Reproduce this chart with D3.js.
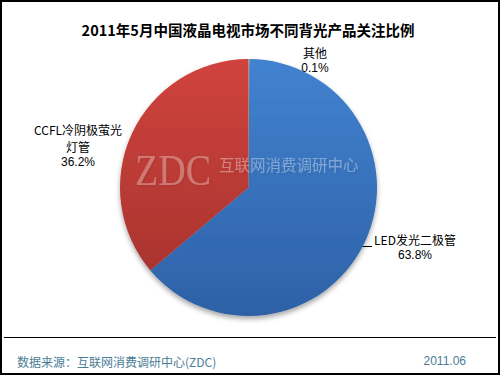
<!DOCTYPE html>
<html>
<head>
<meta charset="utf-8">
<script src="https://d3js.org/d3.v7.min.js"></script>
<style>
  html, body { margin: 0; padding: 0; background: #fff; }
  svg { display: block; }
</style>
</head>
<body>
<svg id="chart" width="500" height="375"></svg>
<script>
const title = "2011年5月中国液晶电视市场不同背光产品关注比例";
const categories = ["其他", "LED发光二极管", "CCFL冷阴极萤光灯管"];
const values = [0.1, 63.8, 36.2];
const labelLines = [["其他"], ["LED发光二极管"], ["CCFL冷阴极萤光", "灯管"]];
const source = "数据来源：互联网消费调研中心(ZDC)";
const dateText = "2011.06";

const width = 500, height = 375;
const cx = 248.5, cy = 187.5, r = 128.5;
const font = "'Noto Sans CJK SC', 'Liberation Sans', Arial, sans-serif";
const latin = "'Liberation Sans', Arial, sans-serif";

const svg = d3.select("#chart");
const defs = svg.append("defs");

// slice gradients (top light, bottom dark)
const colors = [
  { top: "#b5cd6a", bottom: "#8fae4c" },
  { top: "#4282d0", bottom: "#2d61a6" },
  { top: "#d0433d", bottom: "#a2312d" }
];
colors.forEach((c, i) => {
  const lg = defs.append("linearGradient")
    .attr("id", "g" + i)
    .attr("gradientUnits", "userSpaceOnUse")
    .attr("x1", 0).attr("y1", -r).attr("x2", 0).attr("y2", r);
  lg.append("stop").attr("offset", "0%").attr("stop-color", c.top);
  lg.append("stop").attr("offset", "100%").attr("stop-color", c.bottom);
});

const shadow = defs.append("filter").attr("id", "shadow")
  .attr("x", "-20%").attr("y", "-20%").attr("width", "140%").attr("height", "140%");
shadow.append("feDropShadow")
  .attr("dx", 0).attr("dy", 3).attr("stdDeviation", 2.5)
  .attr("flood-color", "#000").attr("flood-opacity", 0.35);

const wmShadow = defs.append("filter").attr("id", "wmshadow");
wmShadow.append("feDropShadow")
  .attr("dx", 1.5).attr("dy", 1.5).attr("stdDeviation", 1)
  .attr("flood-color", "#000").attr("flood-opacity", 0.25);

// frame
svg.append("rect")
  .attr("x", 1).attr("y", 1).attr("width", width - 2).attr("height", height - 2)
  .attr("fill", "#fff").attr("stroke", "#000").attr("stroke-width", 2);

// title
svg.append("text")
  .attr("x", 248).attr("y", 29)
  .attr("text-anchor", "middle").attr("dominant-baseline", "central")
  .attr("font-family", font).attr("font-size", 14.5).attr("font-weight", "bold")
  .attr("fill", "#000")
  .text(title);

// pie
const pie = d3.pie().sort(null).value(d => d);
const arc = d3.arc().innerRadius(0).outerRadius(r);
const arcs = pie(values);

svg.append("g")
  .attr("transform", `translate(${cx},${cy})`)
  .attr("filter", "url(#shadow)")
  .selectAll("path")
  .data(arcs)
  .join("path")
  .attr("d", arc)
  .attr("fill", (d, i) => `url(#g${i})`);

// watermark
svg.append("text")
  .attr("x", 135).attr("y", 185)
  .attr("font-family", "'Liberation Serif', 'DejaVu Serif', serif")
  .attr("font-size", 44)
  .attr("textLength", 76).attr("lengthAdjust", "spacingAndGlyphs")
  .attr("fill", "#fff").attr("fill-opacity", 0.3)
  .attr("filter", "url(#wmshadow)")
  .text("ZDC");
svg.append("text")
  .attr("x", 219).attr("y", 164)
  .attr("dominant-baseline", "central")
  .attr("font-family", font).attr("font-size", 15.5)
  .attr("fill", "#fff").attr("fill-opacity", 0.35)
  .attr("filter", "url(#wmshadow)")
  .text("互联网消费调研中心");

// labels: category name (may wrap) + percentage
const labelPos = [
  { x: 315, y: 52 },
  { x: 415, y: 239.5 },
  { x: 78, y: 129 }
];
const wrapH = 17;
arcs.forEach((a, i) => {
  const p = labelPos[i];
  const lines = labelLines[i];
  lines.forEach((ln, j) => {
    svg.append("text")
      .attr("x", p.x).attr("y", p.y + j * wrapH)
      .attr("text-anchor", "middle").attr("dominant-baseline", "central")
      .attr("font-family", font).attr("font-size", 12)
      .attr("fill", "#000")
      .text(ln);
  });
  svg.append("text")
    .attr("x", p.x).attr("y", p.y + (lines.length - 1) * wrapH + 15.5)
    .attr("text-anchor", "middle").attr("dominant-baseline", "central")
    .attr("font-family", latin).attr("font-size", 12)
    .attr("fill", "#000")
    .text(d3.format(".1f")(values[i]) + "%");
});

// leader line for the LED label
const ly = 246.5;
svg.append("line")
  .attr("x1", cx + Math.sqrt(r * r - (ly - cy) * (ly - cy))).attr("y1", ly)
  .attr("x2", 372).attr("y2", ly)
  .attr("stroke", "#000").attr("stroke-width", 1);

// footer
svg.append("line")
  .attr("x1", 4).attr("x2", 496).attr("y1", 337.5).attr("y2", 337.5)
  .attr("stroke", "#000").attr("stroke-width", 1);
svg.append("text")
  .attr("x", 17).attr("y", 361)
  .attr("dominant-baseline", "central")
  .attr("font-family", font).attr("font-size", 12)
  .attr("fill", "#4b7c98")
  .text(source);
svg.append("text")
  .attr("x", 466).attr("y", 361)
  .attr("text-anchor", "end").attr("dominant-baseline", "central")
  .attr("font-family", latin).attr("font-size", 12)
  .attr("fill", "#4b7c98")
  .text(dateText);
</script>
</body>
</html>
